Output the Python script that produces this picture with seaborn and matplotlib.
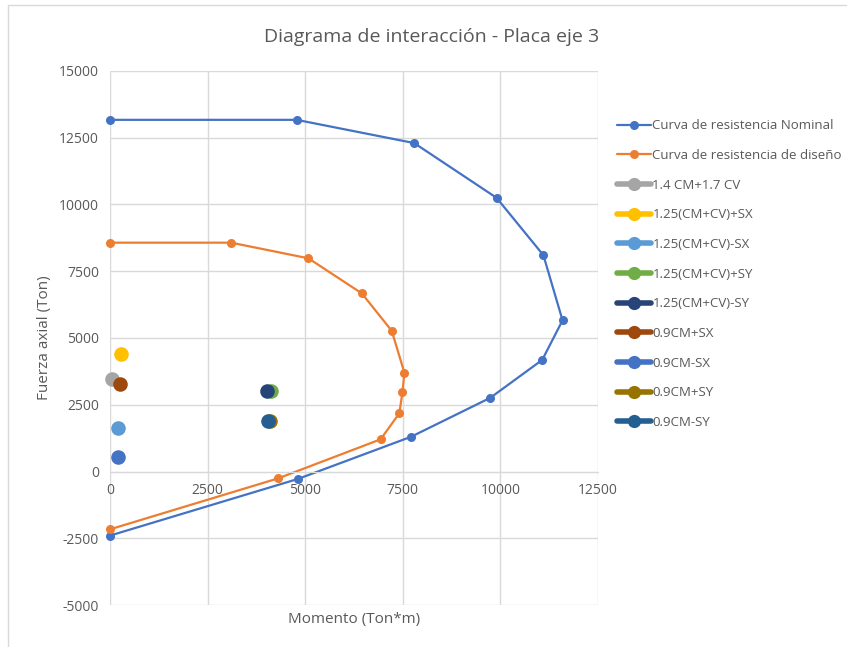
import numpy as np
import pandas as pd
import matplotlib
matplotlib.use("Agg")
import matplotlib.pyplot as plt
from matplotlib.lines import Line2D
import seaborn as sns

# Interaction curves (Momento, Fuerza axial)
nominal_m = [0, 4780, 7790, 9900, 11100, 11590, 11070, 9740, 7710, 4810, 0]
nominal_p = [13170, 13170, 12300, 10250, 8100, 5660, 4180, 2760, 1300, -280, -2400]

design_m = [0, 3100, 5080, 6450, 7215, 7540, 7490, 7410, 6930, 4310, 0]
design_p = [8570, 8570, 7985, 6670, 5270, 3700, 2970, 2180, 1205, -255, -2165]

# Load combinations
combo_names = ["1.4 CM+1.7 CV", "1.25(CM+CV)+SX", "1.25(CM+CV)-SX", "1.25(CM+CV)+SY",
               "1.25(CM+CV)-SY", "0.9CM+SX", "0.9CM-SX", "0.9CM+SY", "0.9CM-SY"]
combo_m = [40, 282, 197, 4115, 4030, 256, 213, 4098, 4055]
combo_p = [3464, 4400, 1618, 3026, 3026, 3277, 532, 1903, 1903]
combo_colors = ["#A5A5A5", "#FFC000", "#5B9BD5", "#70AD47", "#264478",
                "#9E480E", "#4472C4", "#997300", "#255E91"]

sns.set_style("white")
plt.rcParams['font.family'] = ['Open Sans', 'DejaVu Sans']
plt.rcParams['axes.unicode_minus'] = False

fig = plt.figure(figsize=(8.47, 6.47), dpi=100)
ax = fig.add_axes([0.1299, 0.0649, 0.5762, 0.8254])

nom_df = pd.DataFrame({"M": nominal_m, "P": nominal_p})
des_df = pd.DataFrame({"M": design_m, "P": design_p})
sns.lineplot(data=nom_df, x="M", y="P", sort=False, estimator=None, ax=ax, color="#4472C4",
             linewidth=1.6, marker="o", markersize=6.5, markeredgewidth=0, clip_on=False)
sns.lineplot(data=des_df, x="M", y="P", sort=False, estimator=None, ax=ax, color="#ED7D31",
             linewidth=1.6, marker="o", markersize=6.5, markeredgewidth=0, clip_on=False)

for name, m, p, c in zip(combo_names, combo_m, combo_p, combo_colors):
    sns.scatterplot(x=[m], y=[p], ax=ax, color=c, s=110, linewidth=0, zorder=3, clip_on=False)

ax.set_xlim(0, 12500)
ax.set_ylim(-5000, 15000)
ax.set_xticks(np.arange(0, 12501, 2500))
ax.set_yticks(np.arange(-5000, 15001, 2500))
ax.grid(True, color="#D9D9D9", linewidth=1)
ax.set_axisbelow(True)
for s in ["top", "right", "left"]:
    ax.spines[s].set_visible(False)
ax.spines["bottom"].set_position(("data", 0))
ax.spines["bottom"].set_color("#D9D9D9")
ax.tick_params(length=0, labelsize=10, colors="#595959", pad=8)
ax.set_xlabel("")
ax.set_ylabel("Fuerza axial (Ton)", fontsize=11, color="#595959", labelpad=5)
fig.text(0.4185, 0.043, "Momento (Ton*m)", ha="center", va="center",
         fontsize=11, color="#595959")
fig.text(0.509, 0.943, "Diagrama de interacción - Placa eje 3", ha="center",
         va="center", fontsize=14, color="#595959")

handles = [Line2D([], [], color="#4472C4", lw=1.6, marker="o", markersize=6.5, markeredgewidth=0),
           Line2D([], [], color="#ED7D31", lw=1.6, marker="o", markersize=6.5, markeredgewidth=0)]
for c in combo_colors:
    handles.append(Line2D([], [], color=c, lw=4, marker="o", markersize=9.5, markeredgewidth=0))
labels = ["Curva de resistencia Nominal", "Curva de resistencia de diseño"] + combo_names
leg = fig.legend(handles, labels, loc="upper left", bbox_to_anchor=(0.722, 0.824),
                 frameon=False, fontsize=9.5, handlelength=2.6, handletextpad=0.1,
                 labelspacing=1.265, borderaxespad=0)
for t in leg.get_texts():
    t.set_color("#595959")

# screenshot frame
fig.add_artist(Line2D([0.0095, 0.0095], [0, 0.992], color="#D9D9D9", lw=1, transform=fig.transFigure))
fig.add_artist(Line2D([0.0095, 1], [0.992, 0.992], color="#D9D9D9", lw=1, transform=fig.transFigure))

fig.savefig("out.png", dpi=100)
